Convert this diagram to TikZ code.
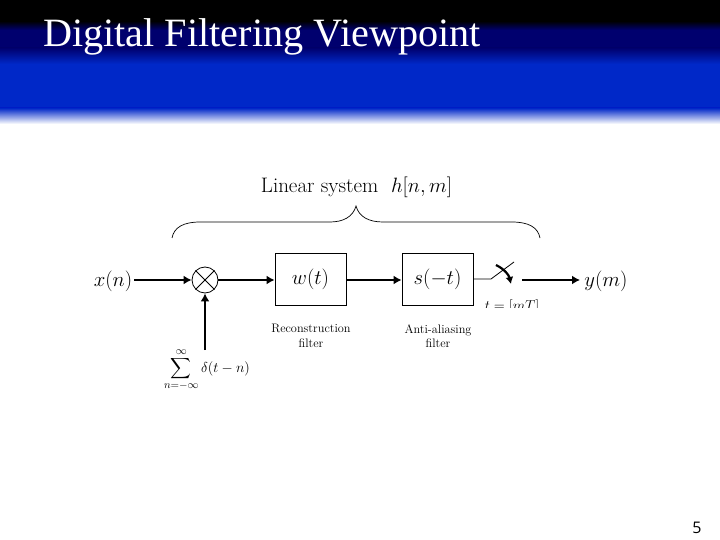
\documentclass[tikz,border=0pt]{standalone}
\usepackage{fontspec}
\usepackage{amsmath}
\setmainfont{Latin Modern Roman}
\newfontfamily\titlefont{Liberation Serif}
\newfontfamily\numfont{Open Sans}
\usetikzlibrary{arrows.meta}
\definecolor{navyband}{RGB}{0,0,110}
\definecolor{blueband}{RGB}{0,40,200}
\tikzset{
  blockbox/.style={draw,line width=0.8pt,minimum width=71pt,minimum height=52pt,inner sep=0pt,font=\fontsize{20}{22}\selectfont},
  sig/.style={line width=2pt,-{Latex[length=8pt,width=9pt]}},
  siglabel/.style={font=\fontsize{20}{22}\selectfont,inner sep=0pt},
  caption/.style={font=\fontsize{12.3}{14.5}\selectfont,align=center,inner sep=0pt},
}
\begin{document}
\begin{tikzpicture}[x=1pt,y=-1pt]
\useasboundingbox (0,0) rectangle (720,540);
\fill[white] (0,0) rectangle (720,540);
\fill[black] (0,0) rectangle (720,21);
\shade[top color=black,bottom color=navyband] (0,21) rectangle (720,30);
\fill[navyband] (0,30) rectangle (720,48);
\shade[top color=navyband,bottom color=blueband] (0,48) rectangle (720,64);
\fill[blueband] (0,64) rectangle (720,108);
\shade[top color=blueband,bottom color=white] (0,108) rectangle (720,124);
\node[anchor=base west,text=white,inner sep=0pt,font=\titlefont\fontsize{40.2}{44}\selectfont] (title) at (43,47) {Digital Filtering Viewpoint};
\node[anchor=base,inner sep=0pt,font=\fontsize{21}{24}\selectfont] (sys) at (356.5,193) {Linear system\ \ $h[n,m]$};
\coordinate (braceL) at (172,238);
\coordinate (braceR) at (540,238);
\coordinate (braceTip) at (356,206);
\draw[line width=0.7pt] (braceL) .. controls (174,227) and (184,222) .. (200,222) -- (330,222)
  .. controls (343,222) and (353,217) .. (braceTip)
  .. controls (359,217) and (369,222) .. (383,222) -- (512,222)
  .. controls (528,222) and (538,227) .. (braceR);
\node[siglabel] (x) at (113,281) {$x(n)$};
\node[draw,circle,minimum size=26pt,inner sep=0pt,line width=0.8pt] (mix) at (205,280) {};
\draw[line width=0.8pt] (mix.north west) -- (mix.south east) (mix.north east) -- (mix.south west);
\node[blockbox] (w) at (310.5,279.5) {$w(t)$};
\node[blockbox] (s) at (437.5,279.5) {$s(-t)$};
\node[siglabel] (y) at (606,281) {$y(m)$};
\node[font=\fontsize{15.5}{18}\selectfont,inner sep=0pt] (sum) at (207,369.5) {$\displaystyle\sum_{n=-\infty}^{\infty}\delta(t-n)$};
\coordinate (sw) at (491,279);
\coordinate (swtip) at (514,262);
\coordinate (swout) at (522,280);
\coordinate (yend) at (580,280);
\coordinate (arcA) at (496,265);
\coordinate (arcB) at (511,284);
\coordinate (sumtop) at (205,350);
\draw[sig] (x.east |- mix) ++(2,0) -- (mix);
\draw[sig] (mix) -- (w.west |- mix);
\draw[sig] (w.east |- mix) -- (s.west |- mix);
\draw[sig] (sumtop) -- (mix);
\draw[line width=0.8pt] (s.east |- sw) -- (sw) -- (swtip);
\draw[line width=2.2pt,-{Latex[length=7pt,width=8pt]}] (arcA) to[bend left=25] (arcB);
\draw[sig] (swout) -- (yend);
\begin{scope}
\clip (480,296) rectangle (545,307.5);
\node[anchor=base,inner sep=0pt,font=\fontsize{15}{17}\selectfont] (t) at (512,310) {$t=[mT]$};
\end{scope}
\node[caption] (c1) at (311,336) {Reconstruction\\filter};
\node[caption] (c2) at (438,336) {Anti-aliasing\\filter};
\node[anchor=base,inner sep=0pt,font=\numfont\fontsize{16}{18}\selectfont] (page) at (697,533) {5};
\end{tikzpicture}
\end{document}
